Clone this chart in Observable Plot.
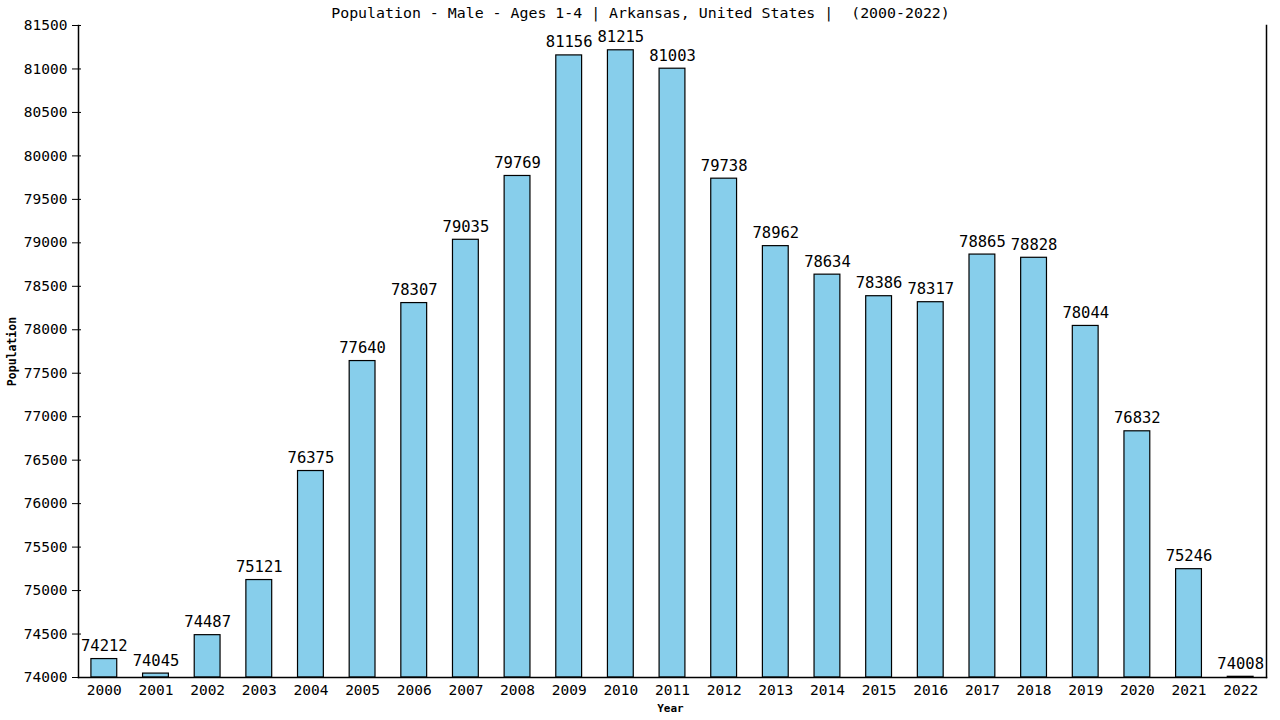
<!DOCTYPE html>
<html><head><meta charset="utf-8">
<script src="https://cdn.jsdelivr.net/npm/d3@7"></script>
<script src="https://cdn.jsdelivr.net/npm/@observablehq/plot@0.6"></script>
<style>
body{margin:0;background:#fff;}
svg{font-family:"DejaVu Sans Mono",monospace;}
</style>
</head><body><div id="chart"></div>
<script>
const years = ["2000","2001","2002","2003","2004","2005","2006","2007","2008","2009","2010","2011","2012","2013","2014","2015","2016","2017","2018","2019","2020","2021","2022"];
const values = [74212,74045,74487,75121,76375,77640,78307,79035,79769,81156,81215,81003,79738,78962,78634,78386,78317,78865,78828,78044,76832,75246,74008];
const yTicks = d3.range(74000, 81501, 500);
const title = "Population - Male - Ages 1-4 | Arkansas, United States |  (2000-2022)";

const data = years.map((y, i) => ({year: y, value: values[i]}));

const chart = Plot.plot({
  width: 1280,
  height: 720,
  marginTop: 25,
  marginBottom: 43,
  marginLeft: 78,
  marginRight: 14,
  style: {fontFamily: "DejaVu Sans Mono, monospace", fontSize: "15px", background: "#fff", color: "#000"},
  x: {type: "band", domain: years, paddingInner: 0.5, paddingOuter: 0.25, round: false, label: null},
  y: {domain: [74000, 81500], label: null},
  marks: [
    Plot.barY(data, {x: "year", y1: 74000, y2: "value", fill: "#87ceeb", stroke: "#000", strokeWidth: 1.2}),
    Plot.text(data, {x: "year", y: "value", text: d => String(d.value), dy: -13, fontSize: 15.5, fill: "#000"}),
    Plot.axisY({ticks: yTicks, tickSize: 9, dx: 3, tickPadding: 5, tickFormat: d => String(d), fontSize: 14.5, label: null}),
    Plot.axisX({tickSize: 0, tickPadding: 7, fontSize: 14.5, label: null}),
    Plot.frame({anchor: "left", stroke: "#000", strokeWidth: 1.5}),
    Plot.frame({anchor: "right", stroke: "#000", strokeWidth: 1.5}),
    Plot.frame({anchor: "bottom", stroke: "#000", strokeWidth: 1.5}),
    Plot.text([title], {frameAnchor: "top", lineAnchor: "middle", dx: -32, dy: -12, fontSize: 14.9, fill: "#000"}),
    Plot.text(["Year"], {frameAnchor: "bottom", lineAnchor: "middle", dx: -2, dy: 31, fontSize: 11, fontWeight: "bold", fill: "#000"}),
    Plot.text(["Population"], {frameAnchor: "left", textAnchor: "middle", lineAnchor: "middle", dx: -66, dy: 0, rotate: -90, fontSize: 11.5, fontWeight: "bold", fill: "#000"})
  ]
});
document.getElementById("chart").appendChild(chart);
</script>
</body></html>
